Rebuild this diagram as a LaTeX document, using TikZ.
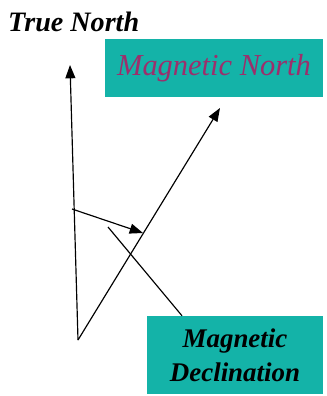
\documentclass[tikz,border=0pt]{standalone}
\usepackage{fontspec}
\setmainfont{Liberation Serif}
\usetikzlibrary{arrows.meta}
\definecolor{declteal}{HTML}{14B3A8}
\definecolor{magplum}{HTML}{9C2F6C}

\begin{document}
\begin{tikzpicture}[x=0.03cm,y=-0.03cm,
    bearing/.style={line width=1pt,-{Triangle[length=4mm,width=3mm]}},
    tagbox/.style={fill=declteal,inner sep=0pt,align=center}]
  \useasboundingbox (0,0) rectangle (326,396);
  \coordinate (origin) at (78,340);
  \coordinate (truetip) at (70,65);
  \coordinate (magtip) at (220,108);
  \coordinate (sweepstart) at (72,209);
  \coordinate (sweepend) at (143,233);
  \coordinate (leaderstart) at (108,227);
  \node[anchor=west, inner sep=0pt, font=\fontsize{24}{27}\selectfont\bfseries\itshape]
    (truelabel) at (8,22) {True North};
  \node[tagbox, minimum width=6.54cm, minimum height=1.74cm,
    font=\fontsize{26}{29}\selectfont\itshape, text=magplum]
    (magbox) at (214,68) {Magnetic North};
  \node[tagbox, minimum width=5.28cm, minimum height=2.34cm,
    font=\fontsize{23}{29}\selectfont\bfseries\itshape]
    (declbox) at (235,355) {Magnetic\\Declination};
  \draw[bearing] (origin) -- (truetip);
  \draw[bearing] (origin) -- (magtip);
  \draw[bearing] (sweepstart) -- (sweepend);
  \draw[line width=1pt] (leaderstart) -- (declbox.north -| 182,0);
\end{tikzpicture}
\end{document}
